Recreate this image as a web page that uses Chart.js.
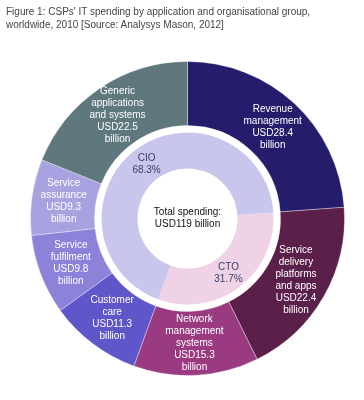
<!DOCTYPE html>
<html>
<head>
<meta charset="utf-8">
<script src="https://cdn.jsdelivr.net/npm/chart.js@4/dist/chart.umd.min.js"></script>
<style>
body{margin:0;background:#fff;font-family:"Liberation Sans",Arial,sans-serif}
#titulo{position:absolute;left:6px;top:5px;font-size:10px;line-height:13px;color:#444}
#grafico{position:absolute;left:0;top:0}
</style>
</head>
<body>
<canvas id="grafico" width="364" height="400"></canvas>
<div id="titulo">Figure 1: CSPs' IT spending by application and organisational group,<br>worldwide, 2010 [Source: Analysys Mason, 2012]</div>
<script>

const categorias=[
["Revenue","management"],
["Service","delivery","platforms","and apps"],
["Network","management","systems"],
["Customer","care"],
["Service","fulfilment"],
["Service","assurance"],
["Generic","applications","and systems"]
]
const valores=[28.4,22.4,15.3,11.3,9.8,9.3,22.5]
const cores=["#231d6b","#5a2049","#9a3a80","#5f56c9","#8c82da","#a9a2e0","#5f787e"]

const grupos=["CTO","CIO"]
const percentuais=[31.7,68.3]
const coresGrupos=["#efd2e5","#c9c6ee"]

const total=valores.reduce((a,b)=>a+b,0)

const rotuloPlugin={
id:"rotulos",
afterDatasetsDraw(chart){
const ctx=chart.ctx
ctx.save()
ctx.textAlign="center"
ctx.textBaseline="middle"
ctx.font="10px 'Liberation Sans', Arial, sans-serif"

chart.getDatasetMeta(0).data.forEach((arco,i)=>{
const p=arco.getCenterPoint()
const linhas=[...categorias[i],"USD"+valores[i],"billion"]
ctx.fillStyle="#fff"
linhas.forEach((l,k)=>{
ctx.fillText(l,p.x,p.y+(k-(linhas.length-1)/2)*12)
})
})

chart.getDatasetMeta(2).data.forEach((arco,i)=>{
const p=arco.getCenterPoint()
ctx.fillStyle="#3a3f66"
ctx.fillText(grupos[i],p.x,p.y-6)
ctx.fillText(percentuais[i]+"%",p.x,p.y+6)
})

const c=chart.getDatasetMeta(0).data[0]
ctx.fillStyle="#111"
ctx.fillText("Total spending:",c.x,c.y-6)
ctx.fillText("USD"+Math.round(total)+" billion",c.x,c.y+6)
ctx.restore()
}
}

new Chart(document.getElementById("grafico"),{
type:"doughnut",
data:{
labels:categorias.map(c=>c.join(" ")),
datasets:[
{
data:valores,
backgroundColor:cores,
borderColor:"rgba(255,255,255,0.35)",
borderWidth:1,
weight:64
},
{
data:[1],
backgroundColor:"rgba(0,0,0,0)",
borderWidth:0,
weight:7
},
{
data:percentuais,
backgroundColor:coresGrupos,
borderWidth:0,
rotation:360*valores[0]/total,
weight:36
}
]
},
options:{
responsive:false,
animation:false,
cutout:50,
layout:{padding:{left:30,top:61,right:19,bottom:24}},
plugins:{
legend:{display:false},
tooltip:{enabled:false}
}
},
plugins:[rotuloPlugin]
})
</script>
</body>
</html>
